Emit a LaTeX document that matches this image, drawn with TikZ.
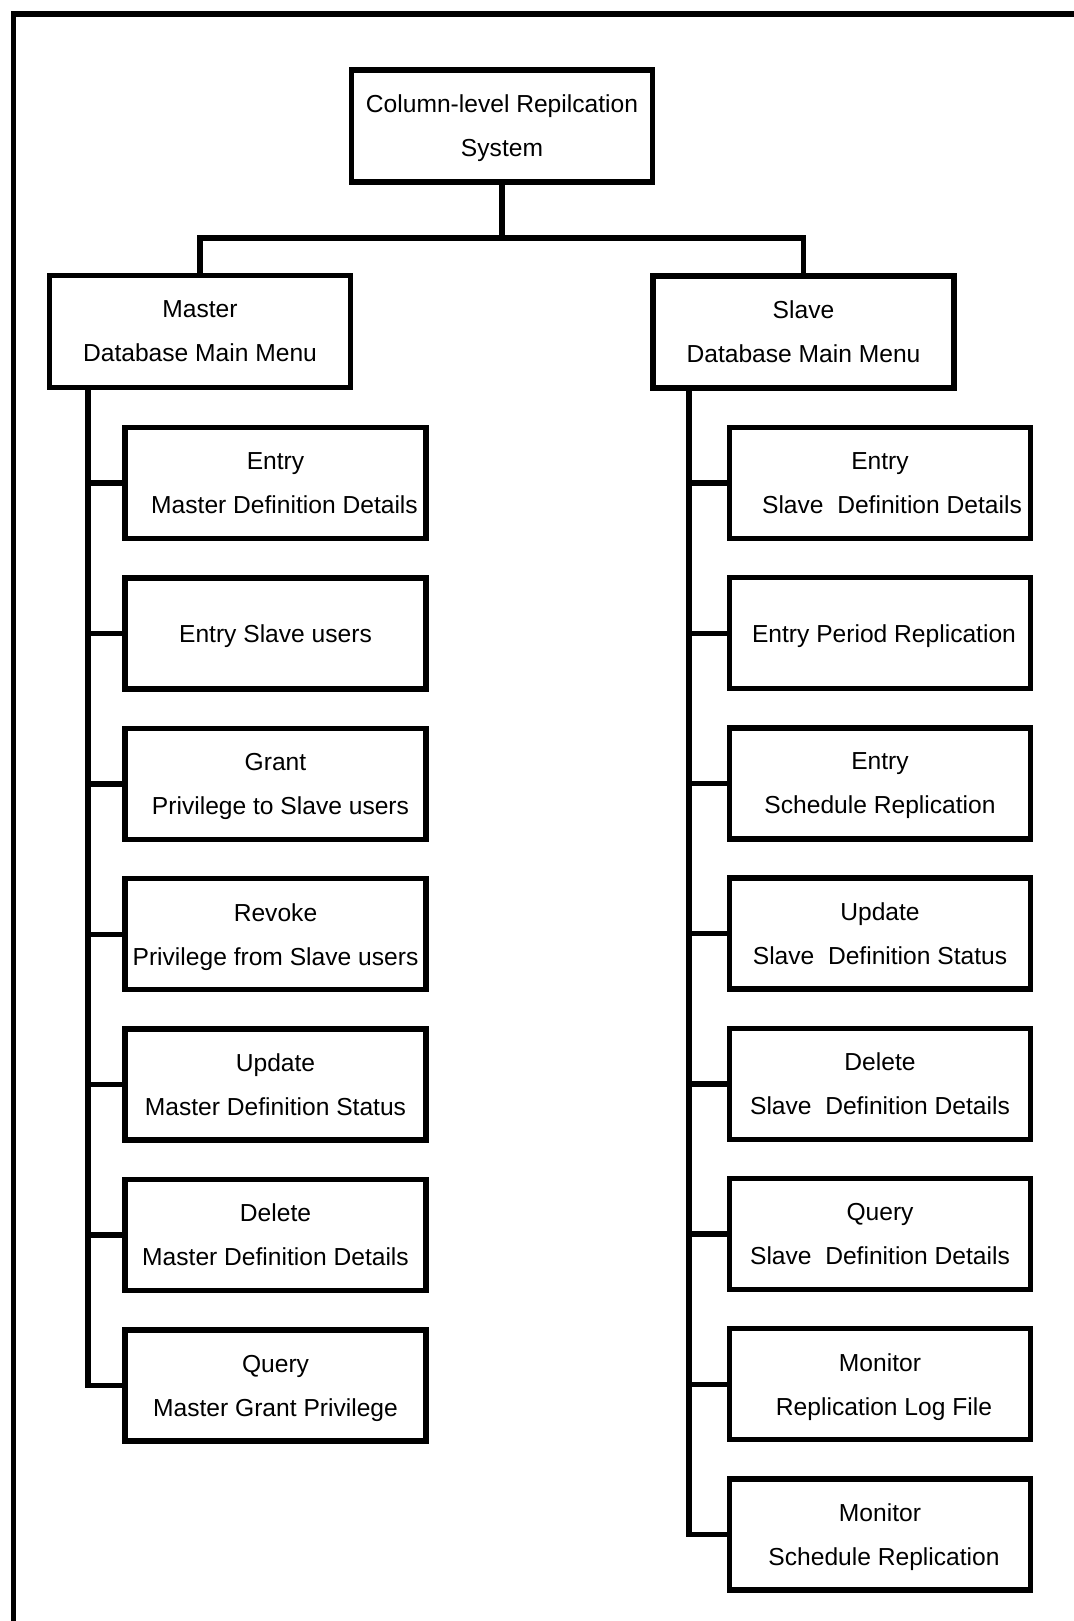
\documentclass[tikz,border=0pt]{standalone}
\usepackage{fontspec}
\setmainfont{Liberation Sans}
\begin{document}
\begin{tikzpicture}[x=0.5pt,y=-0.5pt,
  box/.style={draw=black, line width=2.7pt, inner sep=0pt, align=center,
    minimum width=150.5pt, minimum height=55.5pt, text depth=0pt,
    font=\fontsize{12.3}{22}\selectfont},
  link/.style={draw=black, line width=2.7pt}]
\useasboundingbox (0,0) rectangle (1074,1621);

% page frame (top and left edges)
\draw[link] (13.5,1621) -- (13.5,14) -- (1074,14);

% root
\node[box, minimum height=56pt] (top) at (502,126) {Column-level Repilcation\\System};

% main menus
\node[box, minimum height=56pt] (master) at (200,331.5) {Master\\Database Main Menu};
\node[box, minimum height=56pt] (slave) at (803.5,332) {Slave\\Database Main Menu};

% master sub-menus
\node[box] (m1) at (275.5,483)    {Entry\\\hspace*{9pt}Master Definition Details};
\node[box] (m2) at (275.5,633.4)  {Entry Slave users};
\node[box] (m3) at (275.5,783.8)  {Grant\\\hspace*{5pt}Privilege to Slave users};
\node[box] (m4) at (275.5,934.2)  {Revoke\\Privilege from Slave users};
\node[box] (m5) at (275.5,1084.6) {Update\\Master Definition Status};
\node[box] (m6) at (275.5,1235)   {Delete\\Master Definition Details};
\node[box] (m7) at (275.5,1385.4) {Query\\Master Grant Privilege};

% slave sub-menus
\node[box] (s1) at (880,483)    {Entry\\\hspace*{12pt}Slave\ \ Definition Details};
\node[box] (s2) at (880,633.2)  {\hspace*{4pt}Entry Period Replication};
\node[box] (s3) at (880,783.4)  {Entry\\Schedule Replication};
\node[box] (s4) at (880,933.6)  {Update\\Slave\ \ Definition Status};
\node[box] (s5) at (880,1083.8) {Delete\\Slave\ \ Definition Details};
\node[box] (s6) at (880,1234)   {Query\\Slave\ \ Definition Details};
\node[box] (s7) at (880,1384.2) {Monitor\\\hspace*{4pt}Replication Log File};
\node[box] (s8) at (880,1534.4) {Monitor\\\hspace*{4pt}Schedule Replication};

% root to main menus
\coordinate (bus) at (502,238);
\draw[link] (top.south) -- (bus);
\draw[link] (master.north) |- (bus) -| (slave.north);

% master spine and branches
\coordinate (mspine) at (88,0);
\draw[link] (mspine |- master.south) -- (mspine |- m7.west) -- (m7.west);
\foreach \n in {m1,m2,m3,m4,m5,m6}
  \draw[link] (mspine |- \n.west) -- (\n.west);

% slave spine and branches
\coordinate (sspine) at (689,0);
\draw[link, line cap=round] (sspine |- slave.south) -- (sspine |- s8.west) -- (s8.west);
\foreach \n in {s1,s2,s3,s4,s5,s6,s7}
  \draw[link] (sspine |- \n.west) -- (\n.west);
\end{tikzpicture}
\end{document}
